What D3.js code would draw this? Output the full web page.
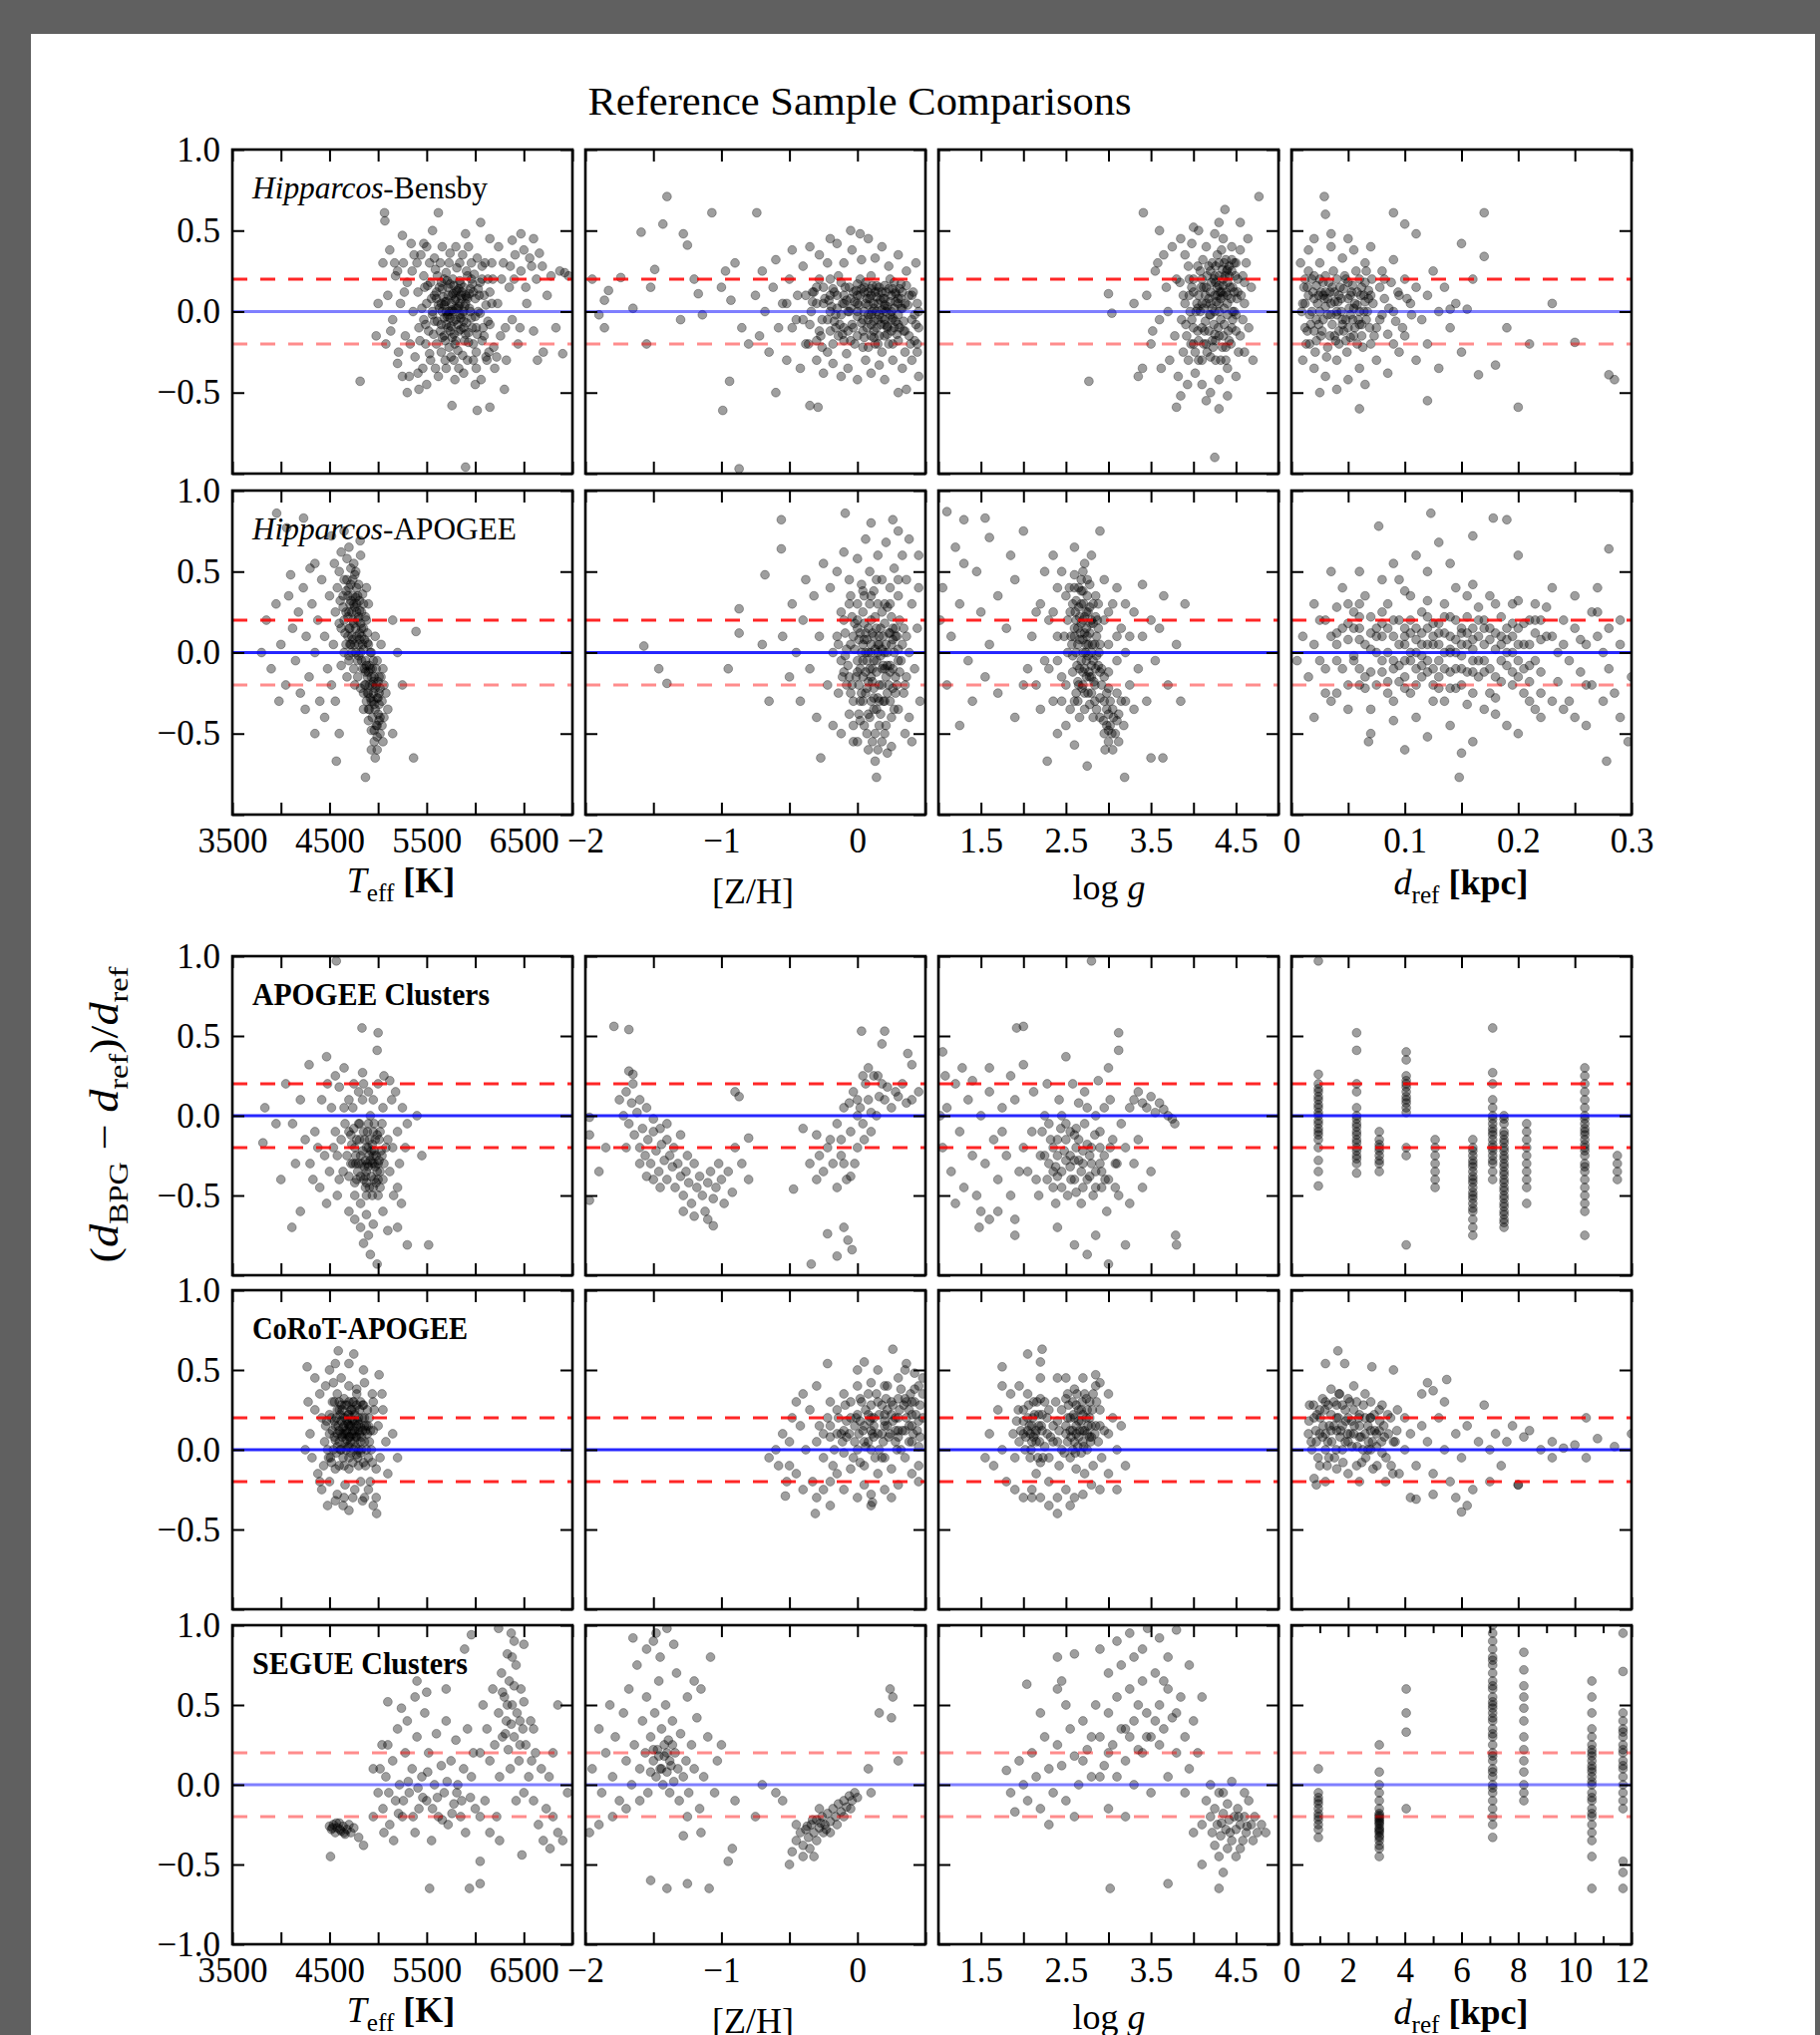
<!DOCTYPE html>
<html><head><meta charset="utf-8">
<script src="https://cdn.jsdelivr.net/npm/d3@7"></script>
<style>
html,body{margin:0;padding:0;background:#606060;}
svg{display:block;}
text{font-family:"Liberation Serif","DejaVu Serif",serif;fill:#000;}
</style></head><body>
<svg id="c" width="1825" height="2041"></svg>
<script>
// ---------------- DATA ----------------
const title = "Reference Sample Comparisons";
const teffTicks = [3500,4000,4500,5000,5500,6000,6500,7000];
const teffLabels = [3500,4500,5500,6500];
const zTicks = [-2,-1.5,-1,-0.5,0,0.5];
const zLabels = [-2,-1,0];
const gTicks = [1,1.5,2,2.5,3,3.5,4,4.5,5];
const gLabels = [1.5,2.5,3.5,4.5];
const dTicksNear = [0,0.05,0.1,0.15,0.2,0.25,0.3];
const dLabelsNear = [0,0.1,0.2,0.3];
const dTicksFar = [0,2,4,6,8,10,12];
const dMinorFar = [1,3,5,7,9,11];
const dLabelsFar = [0,2,4,6,8,10,12];
const yTicks = [-1,-0.5,0,0.5,1];
const refLines = [0.2,-0.2];

// Row 1: Hipparcos-Bensby  (x, y) pairs
const hbTeff = [5500,.05,5520,-.12,5540,.18,5560,-.02,5580,.1,5600,-.2,5610,.22,5630,.02,5650,-.08,5660,.14,5680,-.15,5690,.06,5700,.24,5710,-.03,5720,.1,5730,-.22,5740,.17,5750,-.09,5760,.01,5770,.2,5780,-.14,5790,.07,5800,-.05,5810,.13,5820,-.24,5830,.03,5840,.19,5850,-.11,5860,.08,5870,-.02,5880,.15,5890,-.18,5900,.05,5910,-.07,5920,.22,5930,-.13,5940,.11,5960,-.04,5970,.17,5980,-.2,6000,.08,6010,-.1,6030,.14,6050,-.01,6070,.2,6090,-.15,6110,.04,6130,-.06,6150,.12,5470,-.05,5480,.15,5490,-.2,5660,0,5720,-.1,5750,.05,5780,0,5820,.02,5850,.1,5740,-.04,5800,.12,5700,-.08,5880,-.06,5650,.18,5950,0,5600,.08,5680,.04,5840,-.02,5910,.09,
5050,.3,5080,-.2,5100,.1,5120,.38,5150,-.05,5180,.22,5200,-.32,5230,.05,5260,.3,5280,-.15,5300,.18,5320,-.4,5340,.42,5360,0,5380,-.28,5400,.3,5420,-.1,5440,.35,5460,-.35,5500,.4,5540,-.3,5580,.33,5620,-.4,5660,.4,5700,-.35,5740,.36,5790,-.42,5840,.3,5880,-.38,5930,.4,5980,-.3,6020,.33,6060,-.42,6100,.3,6140,-.25,6180,.2,6200,-.35,6230,.05,6260,-.15,6290,.3,6320,-.3,6350,.15,6380,-.05,6410,.35,6440,-.2,6470,.25,6500,.38,6530,.05,6560,.33,6600,-.12,6630,.2,6660,.36,6700,-.25,6740,.1,6780,.22,6830,-.1,6870,.25,6920,.24,6960,.22,6900,-.26,
5066,.61,5070,.56,5620,.61,6055,.55,5760,-.58,6020,-.61,6150,-.59,4815,-.43,5420,-.48,5900,-.96,5250,.47,5560,.5,5900,.48,6470,.48,6380,.44,6600,.45,5300,-.5,6300,-.48,5000,.05,4980,-.15];
const hbTeffCore = [5410,.12,5430,-.18,5450,.02,5470,.22,5490,-.08,5510,.16,5530,-.26,5550,.08,5570,-.14,5590,.26,5610,-.06,5630,.15,5650,-.25,5670,.09,5690,-.18,5710,.19,5730,0,5750,-.28,5770,.11,5790,-.2,5810,.27,5830,-.12,5850,.17,5870,-.27,5890,.03,5910,.25,5930,-.19,5950,.14,5970,-.1,5990,.23,6010,-.25,6030,0,6050,.18,6070,-.18,6090,.1,6110,-.28,6130,.2,6150,-.08,6170,.05,6190,-.22,5560,0,5600,.12,5640,-.12,5680,.2,5720,-.02,5760,.1,5800,-.18,5840,.05,5880,-.1,5920,.08,5960,.2,6000,-.03,6040,.1,6080,-.1,5580,-.06,5620,.04,5660,-.16,5700,.06,5740,-.12,5780,.16,5820,-.08,5860,.12,5900,-.14,5940,.02,5980,.12,6020,-.14,5750,0,5800,.02,5850,-.04,5700,0,5780,-.06,5830,.14,5720,.15,5880,0,5650,.05,5800,.08,5760,-.16,5900,.1,5680,-.04,
5130,-.12,5170,.3,5210,-.25,5270,.12,5330,-.2,5370,.35,5410,-.38,5470,.42,5530,.3,5590,-.35,5640,.3,5690,-.3,5730,.3,5780,-.3,5830,-.35,5870,.35,5920,-.3,5960,.3,6010,-.35,6070,.28,6120,-.3,6170,.3,6220,-.28,6270,.2,6310,-.1,6360,.28,6400,.2,6460,-.1,6520,.15,6580,.28,6640,-.3,6690,.28,5200,.25,5350,.25,5250,-.4,6240,.4,6150,.45,5800,.4,5500,-.45,6000,-.45];
const hbZ = [-.3,.05,-.28,-.12,-.25,.15,-.22,-.05,-.2,.1,-.18,-.2,-.15,.02,-.12,.18,-.1,-.1,-.08,.07,-.05,-.18,-.03,.12,0,-.03,.02,.2,.04,-.12,.06,.05,.08,-.22,.1,.14,.12,-.06,.14,.09,.16,-.15,.18,.01,.2,.16,.22,-.09,.24,.06,.26,-.2,.28,.11,.3,-.02,.32,.17,.34,-.12,-.26,-.22,-.2,.2,-.14,-.15,-.06,0,0,.1,.05,0,.1,-.02,.15,.05,.2,-.05,.25,0,.3,.08,-.1,.05,-.16,-.02,.08,.12,.12,-.16,.18,.12,.22,.03,.27,-.1,-.02,-.2,0,.17,.04,-.05,.1,.1,.14,-.1,.2,-.15,.32,.02,.35,-.25,.38,.1,.4,-.05,.42,-.18,.44,.05,.45,-.1,-.35,-.08,-.38,.1,
-.75,.1,-.72,-.15,-.7,.25,-.68,0,-.65,-.25,-.62,.15,-.6,.32,-.58,-.1,-.55,.05,-.52,-.3,-.5,.2,-.48,.38,-.45,-.05,-.42,-.35,-.4,.28,-.38,-.2,-.35,.4,-.33,.12,-.3,-.3,-.28,.35,-.25,-.38,-.22,.3,-.18,-.32,-.15,.42,-.12,-.4,-.1,.3,-.07,-.35,-.04,.38,0,-.42,.03,.32,.06,-.3,.08,.45,.1,-.38,.13,.33,.16,-.33,.18,.4,.2,-.42,.23,.28,.26,-.3,.3,.35,.33,-.35,.36,.25,.4,-.3,.43,.3,.45,-.4,-.05,.5,.02,.48,-.2,.45,
-1.4,.71,-1.43,.54,-1.59,.49,-1.28,.48,-1.25,.41,-1.07,.61,-.74,.61,-1.83,.13,-1.86,.07,-1.74,.21,-1.65,.02,-1.49,.26,-1.52,.15,-1.86,-.1,-1.9,-.02,-1.14,-.02,-1.17,.11,-.93,.07,-.97,.25,-1,.15,-1.3,-.05,-1.55,-.2,-1.2,.2,-.85,-.1,-.9,.3,-.8,-.2,-.99,-.61,-.29,-.59,-.35,-.58,-.87,-.97,-.94,-.43,.36,-.48,.44,-.2,.3,-.5,-.6,-.5,-1.95,.2];
const hbZCore = [-.34,0,-.32,.12,-.3,-.18,-.28,.2,-.26,-.05,-.24,.08,-.22,-.25,-.2,0,-.18,.14,-.16,-.1,-.14,.22,-.12,-.02,-.1,.1,-.08,-.26,-.06,.15,-.04,-.08,-.02,.06,0,-.15,.02,.1,.04,-.22,.06,.18,.08,-.02,.1,.22,.12,-.12,.14,0,.16,.15,.18,-.25,.2,.04,.22,-.14,.24,.2,.26,-.04,.28,.12,.3,-.18,.32,.08,.34,-.06,.36,.16,.38,-.15,.4,.1,.42,-.02,.44,-.25,0,.05,.05,.12,.1,-.08,.15,-.05,.2,.08,.25,-.12,.3,.05,-.05,.02,-.1,-.18,-.15,.1,-.2,-.12,-.25,.05,-.3,.15,.08,.04,.12,.02,.16,-.02,.2,-.08,.24,-.02,.28,-.06,.03,-.07,.07,.08,.11,.16,.13,-.2,.17,.07,.21,.12,.23,-.2,.27,.18,.31,-.1,.33,.02,.35,-.12,.37,.04,.39,-.2,.41,.12,.43,-.08,.45,0,-.01,.13,-.07,-.12,-.11,.05,-.17,-.06,-.21,.07,-.27,-.15,-.33,.06,-.36,-.2,-.4,-.05,-.44,.1,-.48,-.1,-.52,.05,
-.19,.03,-.13,-.08,-.09,.15,-.03,-.1,.01,.04,.05,-.16,.09,.08,.13,.12,.17,-.08,.21,0,.25,.1,.29,-.14,.33,.12,-.17,.12,-.11,-.14,-.05,.08,.03,.14,.07,-.1,.11,0,.15,-.2,.19,.08,.23,.14,.27,.02,.31,.14,.35,.05,.1,-.15,0,0,.2,.02,.25,-.05,.15,.12,.05,.15,-.07,0,.12,.05,.22,-.1,.28,.06,.18,-.04,.08,-.05,.3,-.08,.26,.14,.14,.16];
const hbLogg = [3.9,.05,3.92,-.15,3.95,.2,3.98,-.05,4,.12,4.02,-.25,4.05,.02,4.08,.25,4.1,-.1,4.12,.15,4.15,-.2,4.18,.08,4.2,-.02,4.22,.3,4.25,-.14,4.28,.1,4.3,.22,4.32,-.05,4.35,.16,4.38,-.22,4.4,.05,4.42,.28,4.45,-.1,4.48,.12,4.5,-.02,4.52,.2,4.55,-.15,4.25,0,4.3,.05,4.35,.1,4.4,.18,4.2,.12,4.15,.05,4.1,.2,4.05,-.12,4.45,.25,4.38,.32,4.28,.35,4.2,-.28,4.1,-.3,4.32,-.3,4,-.1,4.48,0,4.42,-.18,4.26,.18,4.34,.26,4.36,-.08,4.14,-.06,4.06,.1,3.96,0,4.24,-.08,4.44,.08,4.3,-.15,4.18,.28,4.5,.3,4.46,.15,4.22,-.18,4.12,.02,4.33,.12,4.27,.06,4.4,-.02,4.37,.22,
3.45,.1,3.5,-.2,3.55,.25,3.6,-.05,3.62,-.35,3.65,.35,3.7,0,3.72,-.3,3.75,.4,3.78,-.15,3.8,.2,3.82,-.4,3.85,.45,3.88,-.25,3.9,.35,3.93,-.45,3.98,.42,4.02,-.38,4.06,.5,4.1,-.45,4.15,.4,4.2,-.5,4.25,.48,4.3,-.42,4.35,.45,4.4,-.35,4.45,.4,4.5,-.4,4.55,.38,4.6,-.25,4.62,.3,4.65,-.1,4.68,.15,4.7,-.3,4.6,.05,4.58,.22,4.64,.45,3.68,.15,3.58,.3,3.52,-.12,4,.52,4.3,.55,4.15,-.55,4.4,-.52,3.85,-.52,
3.41,.61,4.37,.63,4.77,.71,2.77,-.43,3,.11,3.04,-.01,3.8,-.59,4.3,-.6,3.4,-.35,3.35,-.4,4.25,-.9,3.6,.5,3.3,.05,4.55,.55];
const hbLoggCore = [3.88,.1,3.91,-.08,3.94,.28,3.97,-.2,4,.2,4.03,0,4.06,-.18,4.09,.15,4.11,.32,4.13,-.12,4.16,.22,4.19,-.02,4.21,.18,4.23,-.22,4.26,.28,4.29,-.1,4.31,.12,4.33,.38,4.36,.02,4.39,.25,4.41,-.12,4.43,.15,4.46,-.05,4.49,.22,4.51,.08,4.53,-.25,4.56,.1,4.2,.05,4.25,.22,4.3,.3,4.35,.2,4.4,.1,4.45,.32,4.3,0,4.25,.1,4.35,-.15,4.2,.25,4.15,.15,4.1,.05,4.05,.28,4,-.2,3.95,.1,4.28,.15,4.32,.08,4.38,.12,4.42,.22,4.22,.02,4.18,-.12,4.12,-.2,4.08,0,4.34,-.22,4.44,-.2,4.48,.3,4.52,.12,4.26,-.18,4.36,.3,4.4,.26,4.3,.16,4.24,.2,4.14,.1,4.04,.05,3.98,.15,4.46,0,4.5,-.12,4.16,-.25,4.26,-.3,4.38,-.3,4.06,-.3,3.94,-.3,3.86,-.05,3.84,.18,4.58,-.05,4.6,.18];
const hbDref = [.01,.05,.012,-.1,.014,.15,.016,-.2,.018,0,.02,.22,.022,-.05,.024,.1,.026,-.15,.028,.18,.03,.03,.032,-.22,.034,.12,.036,-.08,.038,.06,.04,.2,.042,-.12,.044,0,.046,.14,.048,-.18,.05,.08,.052,-.02,.054,.16,.056,-.1,.058,.04,.06,.2,.062,-.15,.064,.1,.066,-.05,.068,.13,.07,-.2,.015,.1,.025,0,.035,.05,.045,-.05,.055,.02,.065,.06,.02,-.12,.03,.12,.04,-.02,.05,-.1,.06,0,.028,-.05,.038,-.15,.048,.2,.058,.12,.012,.2,.022,.16,.032,.08,.042,.1,.052,-.16,.062,-.08,.072,.05,.075,-.1,.078,.15,.08,-.02,.082,.08,.085,-.14,.088,.18,.09,0,.092,-.06,.095,.1,
.008,.3,.01,-.3,.015,.38,.02,-.35,.025,.3,.03,-.4,.035,.4,.04,-.3,.045,.33,.05,-.42,.055,.38,.06,-.35,.065,.3,.07,.4,.075,-.3,.08,.25,.085,-.38,.09,.32,.095,-.25,.1,.2,.1,-.15,.105,.05,.11,-.3,.11,.15,.115,-.05,.12,.1,.12,-.2,.125,.25,.13,0,.13,-.35,.135,.15,.14,-.1,.145,.05,.15,-.25,.02,.45,.035,.48,.05,.45,.065,-.45,.04,-.48,.025,-.5,
.029,.71,.09,.61,.17,.61,.1,.54,.11,.48,.15,.42,.17,.34,.21,-.2,.25,-.19,.28,-.39,.285,-.42,.2,-.59,.18,-.33,.165,-.39,.14,.015,.155,.015,.06,-.6,.03,.6,.12,-.55,.16,.2,.19,-.1,.23,.05];
const hbDrefCore = [.009,0,.011,.15,.013,-.2,.015,.25,.017,-.08,.019,.12,.021,-.25,.023,.05,.025,.2,.027,-.12,.029,.08,.031,-.28,.033,.18,.035,-.02,.037,.25,.039,-.18,.041,.06,.043,.15,.045,-.08,.047,.22,.049,-.25,.051,.02,.053,.12,.055,-.15,.057,.25,.059,-.05,.061,.1,.063,-.22,.065,.18,.067,0,.069,-.1,.071,.2,.073,-.15,.012,.05,.016,-.02,.02,.08,.024,-.08,.028,.1,.032,-.02,.036,.15,.04,0,.044,.08,.048,-.05,.052,.1,.056,.05,.06,-.08,.064,0,.068,.08,.018,.2,.026,.12,.034,-.15,.042,-.2,.05,.18,.058,-.2,.066,.25,.014,-.12,.022,-.18,.03,.22,.038,.12,.046,-.12,.054,-.05,.062,.15,.07,.1,.078,-.05,.082,.2,.086,.02,.09,-.2,.094,.12,.098,-.1,.102,.08,.106,-.02];

// Row 2: Hipparcos-APOGEE
const haTeff = [4550,.55,4600,.5,4620,.62,4650,.45,4680,.58,4700,.4,4720,.52,4740,.35,4760,.48,4780,.3,4800,.42,4820,.6,4840,.36,4580,.4,4610,.32,4640,.28,4670,.38,4690,.22,4710,.3,4730,.25,4750,.18,4770,.34,4790,.2,4810,.26,4830,.15,4850,.3,4870,.22,4890,.12,4560,.25,4600,.18,4660,.12,4700,.15,4740,.08,4780,.1,4800,.05,4815,.69,4700,.65,4880,.4,4900,.3,
4650,0,4700,-.05,4720,.05,4750,-.1,4770,0,4790,-.15,4810,.08,4830,-.05,4850,.02,4870,-.12,4890,.06,4910,-.08,4930,0,4950,-.18,4970,.1,4990,-.05,5010,-.15,4860,-.2,4900,-.25,4940,-.1,4820,-.22,4760,-.2,4680,-.15,4620,-.08,5030,.05,5050,-.1,
4880,-.3,4900,-.35,4920,-.28,4940,-.4,4960,-.32,4980,-.45,5000,-.38,5020,-.5,5040,-.3,4960,-.55,4990,-.6,5010,-.42,4930,-.48,4900,-.42,4850,-.35,5060,-.4,5080,-.25,5100,-.35,5050,-.55,4970,-.65,4930,-.6,5000,-.28,4950,-.25,4980,-.2,5020,-.22,
3850,.2,3900,-.1,3950,.3,4000,.05,4050,-.2,4080,.35,4120,.15,4150,-.05,4180,.25,4200,-.25,4230,.4,4260,.1,4290,-.15,4320,.3,4350,0,4380,.2,4400,-.3,4420,.45,4450,.1,4480,-.1,4500,.35,4520,-.2,4540,.05,4100,.48,4300,.52,3980,-.3,4250,-.35,4450,-.4,4350,.55,4560,-.3,
3956,.86,4233,.83,4060,.77,4870,-.77,4570,-.67,5365,-.65,5390,.13,4520,.72,4650,.75,4350,-.5,5200,0,5250,-.2,5150,.2,3800,0,4600,-.5,5150,-.5];
const haTeffCore = [4650,.2,4670,.05,4690,.35,4700,-.02,4710,.15,4720,.42,4730,0,4740,.2,4750,.3,4760,.05,4770,.15,4780,.4,4790,-.05,4800,.22,4810,.32,4820,0,4830,.1,4840,-.1,4850,.15,4860,.08,4870,-.05,4880,.2,4890,-.15,4900,.05,4910,-.2,4920,-.1,4930,-.3,4940,-.2,4950,-.05,4960,-.15,4970,-.35,4980,-.1,4990,-.28,5000,-.18,5010,-.32,5020,-.4,5030,-.15,4880,-.08,4900,-.12,4920,0,4860,-.1,4840,.05,4820,.18,4800,-.02,4780,.25,4760,.28,4740,.45,4720,.32,4700,.25,4680,.45,4950,-.3,4970,-.22,4990,-.45,5010,-.25,4930,-.15,4910,-.35,4890,-.25,4870,-.2,4850,-.25,4830,.25,4810,.12,4790,.35,4770,.5,4750,.55,4730,.1,4710,.05,4690,.1,4670,.25,4640,.35,4620,.15,4960,-.48,4990,-.52,5040,-.45,5060,-.2];
const haZ = [-.15,.1,-.12,-.05,-.1,.2,-.08,-.2,-.05,.05,-.03,-.3,0,.15,.02,-.1,.04,.25,.06,-.25,.08,0,.1,-.15,.12,.1,.14,-.35,.16,.05,.18,-.2,.2,.18,.22,-.08,.24,-.3,.26,.08,.28,-.15,.3,.02,-.1,-.12,-.06,-.38,-.02,.02,.02,-.42,.06,.12,.1,-.3,.14,-.05,.18,.02,.22,.28,.26,-.22,-.04,-.2,0,-.05,.04,-.15,.08,-.38,.12,-.22,.16,-.45,.2,-.1,.24,.12,0,.3,.04,.05,.1,.05,-.14,-.25,-.18,0,.28,.15,.32,-.05,.34,-.25,.36,.1,.38,-.4,.3,-.35,-.12,.25,.07,-.5,.11,-.55,.15,-.6,
-.55,.1,-.5,-.15,-.48,.3,-.45,0,-.42,-.3,-.4,.2,-.38,.45,-.35,-.1,-.32,.35,-.3,-.4,-.28,.1,-.25,.55,-.22,-.2,-.2,.4,-.18,-.45,-.15,.5,-.12,-.5,-.1,.62,-.06,.45,-.03,-.55,0,.58,.03,.42,.06,.7,.09,.5,.12,.38,.15,.6,.18,.45,.21,.68,.24,.4,.27,.52,.3,.35,.33,.6,.36,.45,.38,.7,.4,.3,.42,-.1,.44,.15,.46,-.3,.45,.4,.4,-.55,.35,-.5,.25,-.58,.2,-.5,.22,-.62,-.05,.35,.05,.35,.15,.3,
-1.57,.04,-1.46,-.1,-1.4,-.19,-.95,-.1,-.68,.48,-.87,.27,-.87,.12,-.27,-.65,.14,-.77,-.56,.82,-.56,.64,-.09,.86,.26,.82,.13,-.67,-.65,-.3,-.7,.05,.3,.75,.1,.8,.45,.6];
const haZCore = [-.14,.05,-.11,-.15,-.09,.12,-.07,-.08,-.04,.22,-.01,-.15,.01,.08,.03,-.25,.05,.18,.07,-.05,.09,.3,.11,-.18,.13,.02,.15,-.28,.17,.15,.19,-.08,.21,.05,.23,-.2,.25,.22,.27,-.35,.29,.1,.31,-.12,.33,.05,.35,-.2,0,-.12,.02,.12,.04,-.3,.06,0,.08,-.18,.1,.2,.12,-.05,.14,.15,.16,-.2,.18,-.1,.2,-.3,.22,0,.24,-.12,.26,.15,.28,-.25,.3,-.05,-.08,.02,-.05,-.25,-.02,.18,.03,0,.07,.08,.11,-.1,.15,0,.19,.1,.23,.12,.27,0,.31,.2,.05,-.45,.09,-.4,.13,-.5,.17,-.38,.21,-.45,.25,-.4,.01,-.38,-.03,-.45,0,-.55,.08,-.6,.18,-.55,.12,-.35,.16,-.3,.2,.3,.1,.35,.04,.38,-.06,.3,.14,.45,.24,.3,.3,.45,.34,.15,.36,-.15,.38,0,
-.09,-.02,-.03,.1,.01,-.2,.05,.08,.09,-.1,.13,.22,.17,-.02,.21,-.15,.25,.05,.29,-.2,-.06,-.15,0,.2,.04,-.05,.08,.15,.12,-.28,.16,.1,.2,0,.24,-.08,.28,.1,.02,-.3,.06,-.12,.1,0,.14,-.12,.18,.25,.22,-.25,.26,-.1,.11,.12,.07,-.22,.19,-.3,.15,.05];
const haLogg = [2.6,.4,2.62,.2,2.64,.05,2.66,-.1,2.68,.3,2.7,-.2,2.72,.12,2.74,-.05,2.76,.25,2.78,-.15,2.8,0,2.82,.18,2.84,-.3,2.86,.1,2.88,-.08,2.58,-.02,2.6,.15,2.65,.28,2.7,.08,2.75,.35,2.8,-.25,2.85,.22,2.9,-.12,2.62,-.25,2.68,.45,2.72,-.35,2.78,.42,2.84,.05,2.64,.15,2.74,.15,2.7,0,2.66,.22,2.76,-.02,2.82,-.05,2.58,.3,2.88,.3,2.72,.55,2.8,.6,2.66,-.4,2.9,.05,
2.92,-.2,2.95,-.3,2.98,-.25,3,-.38,3.02,-.45,3.05,-.35,3.08,-.5,3.1,-.42,3.12,-.55,3.15,-.3,3,-.55,2.95,-.5,3.05,-.6,3.1,-.25,3.18,-.45,
2.1,.1,2.15,-.2,2.2,.3,2.25,-.05,2.3,.2,2.35,-.3,2.4,.1,2.45,-.15,2.5,.35,2.52,0,2.55,-.35,2.4,.4,2.3,-.1,2.2,-.35,2.15,.25,2.95,.2,3,.05,3.05,.3,3.1,-.05,3.15,.15,3.2,0,3.25,-.2,3.3,.25,3.35,-.1,3.4,.1,3.45,-.3,3.5,.2,3,-.12,3.1,.4,3.2,.3,3.3,-.35,2.95,.45,2.45,.5,2.35,.6,2.5,-.45,2.4,-.5,3.55,-.05,3.6,.15,3.7,-.2,3.8,.05,3.65,.35,3.4,.42,2.05,-.1,2.25,.5,2.6,.65,
1.1,.87,1.3,.82,1.55,.83,1.6,.71,1.2,.65,1.45,.5,1.05,.4,1.25,.3,1.5,.25,1.7,.35,1.9,.45,1.15,.1,1.35,-.05,1.6,.05,1.8,.15,2,-.2,1.1,-.2,1.4,-.3,1.7,-.25,1.9,-.4,1.25,-.45,1.55,-.15,1.85,.6,1.02,.2,1.3,.55,
3.19,-.77,3.5,-.65,3.64,-.65,2.28,-.67,2.6,-.57,2.75,-.7,3.85,-.3,3.9,.3,2,.75,2.9,.75];
const haLoggCore = [2.56,.1,2.58,-.12,2.6,-.3,2.62,.32,2.64,-.18,2.66,.08,2.68,-.05,2.7,.38,2.72,-.1,2.74,.25,2.76,.05,2.78,.12,2.8,-.15,2.82,.3,2.84,-.2,2.86,-.02,2.88,.15,2.9,-.28,2.6,.48,2.65,.4,2.7,.5,2.75,.45,2.8,.2,2.85,-.1,2.7,-.12,2.68,.18,2.72,.22,2.76,-.25,2.64,-.3,2.74,.05,2.78,-.32,2.82,-.4,2.86,-.35,2.9,-.4,2.94,-.42,2.98,-.35,3.02,-.3,2.96,-.6,3,-.48,3.06,-.4,3.12,-.38,2.52,.2,2.5,-.2,2.48,.1,2.54,.4,2.4,-.05,2.35,.25,3,.25,3.1,.1,2.45,-.3,3.2,-.3,3.25,.1,
2.57,.05,2.61,.25,2.63,-.08,2.67,.12,2.69,-.22,2.71,.3,2.73,0,2.77,-.12,2.79,.18,2.81,.05,2.83,-.18,2.87,.2,2.89,0,2.6,.1,2.7,.2,2.8,-.08,2.75,.1,2.65,-.2,2.85,.35,2.55,.25,2.92,-.1,2.95,-.15,3,-.22,2.98,-.45,3.04,-.5,2.68,.38,2.74,-.15,2.78,.28,2.62,0,2.72,-.25];
const haDref = [.01,.1,.015,-.15,.02,.3,.025,-.05,.03,.2,.035,-.3,.04,.05,.045,.4,.05,-.2,.055,.15,.06,-.1,.065,.35,.07,-.35,.075,0,.08,.25,.085,-.25,.09,.1,.095,.45,.1,-.15,.105,.2,.11,-.4,.115,.05,.12,.32,.125,-.1,.13,.18,.135,-.3,.14,.02,.145,.4,.15,-.2,.155,.12,.16,-.05,.165,.28,.17,-.35,.175,.08,.18,-.15,.185,.22,.19,-.45,.195,0,.2,.15,.205,-.25,.21,.05,.215,.3,.22,-.12,.225,.1,.23,-.3,.24,.2,.245,-.05,.25,-.4,.255,.08,.26,-.2,.27,.1,.28,-.1,.29,.05,.3,-.15,
.03,-.1,.04,.28,.05,.08,.06,.3,.07,.12,.08,-.12,.09,-.05,.1,.05,.11,.15,.12,-.05,.13,-.15,.14,.22,.15,.05,.16,.15,.17,-.12,.18,.02,.19,-.08,.2,-.05,.21,-.18,.22,.2,.06,.5,.08,.45,.1,.38,.12,.5,.14,.55,.16,.42,.11,.6,.13,.68,.09,.55,.07,-.5,.09,-.42,.12,-.52,.14,-.45,.16,-.55,.18,-.38,.2,-.5,.22,-.4,.24,-.35,.26,-.45,.15,-.62,.1,-.6,.05,-.35,.035,.5,.125,.1,.105,-.25,.085,0,.135,0,.155,-.32,.115,-.02,.095,-.18,.145,-.1,.175,.35,.195,.3,.215,-.35,.235,0,.265,.25,.275,-.3,.23,.4,.25,.35,.04,-.25,.02,-.4,.06,-.2,
.123,.86,.178,.83,.19,.82,.16,.72,.077,.78,.28,.64,.148,-.77,.278,-.67,.297,-.55,.068,-.55,.27,.4,.29,-.4,.005,-.05,.2,.6];
const haDrefCore = [.02,.05,.025,.2,.03,-.25,.035,.1,.04,-.05,.045,.15,.05,.3,.055,-.05,.06,.15,.065,-.15,.07,.22,.075,-.2,.08,.1,.085,.3,.09,-.3,.095,.2,.1,-.05,.105,.35,.11,-.1,.115,.25,.12,.15,.125,-.3,.13,.05,.135,.3,.14,-.22,.145,.2,.15,-.1,.155,.35,.16,-.25,.165,.1,.17,.05,.175,-.25,.18,.3,.185,-.05,.19,.15,.195,-.2,.2,.32,.205,.05,.21,-.3,.215,.12,.22,-.25,.225,.28,.23,.1,.235,-.18,.24,.05,.245,-.3,.25,.15,.255,-.12,.26,.05,.265,-.2,.27,.25,.275,0,.28,.15,.285,-.25,.29,.2,.1,.1,.11,-.2,.12,.22,.13,-.22,.14,.1,.15,.15,.16,.02,.17,.2,.18,-.28,.19,.08,.2,-.15,.21,.2,.105,0,.115,-.15,.125,.05,.135,-.1,.145,0,.155,.05,.165,-.15,.175,.15,.185,.1,.195,.1,.205,-.1,.215,-.05,.085,.15,.075,.1,.065,.05,.055,.25,
.04,.12,.045,-.1,.05,.18,.055,-.02,.06,.08,.065,-.22,.07,.02,.075,.15,.08,-.05,.085,-.18,.09,.2,.095,.05,.1,-.22,.105,.12,.11,0,.115,-.08,.12,.05,.125,.18,.13,-.05,.135,.12,.14,-.12,.145,.08,.15,-.02,.155,.22,.16,.08,.165,-.05,.17,.15,.175,-.1,.18,.12,.185,-.18,.19,0,.195,.18,.2,.05,.205,.18,.21,-.08,.215,.2,.22,.08,.1,.15,.11,.08,.12,-.12,.13,.12,.14,0,.15,.12,.16,-.12,.17,-.05,.09,-.1,.08,.18,.07,-.12,.06,.22,.125,-.2,.135,.22,.145,-.22,.155,-.12,.165,.2,.115,.12,.105,-.05,.095,-.08,.185,.05,.195,-.12];

// Row 3: APOGEE Clusters
const acTeff = [4700,-.1,4720,-.3,4740,.05,4760,-.2,4780,-.4,4800,-.05,4820,-.25,4840,.1,4860,-.15,4880,-.35,4900,-.2,4910,-.45,4920,0,4940,-.3,4950,-.1,4960,-.4,4980,-.25,5000,-.5,5010,-.15,5020,-.35,5040,-.05,5060,-.3,5080,-.2,4870,-.28,4890,-.1,4930,-.22,4970,-.32,4990,-.12,4850,-.4,4810,-.15,4770,-.3,4730,-.18,4700,-.38,4680,-.25,4660,-.05,4640,-.35,4620,-.15,4600,-.4,4580,-.25,4560,-.1,4950,.1,4900,.15,4850,.2,4800,.15,4750,.2,4700,.1,4650,.05,4960,-.05,5050,.05,5100,-.15,5120,-.35,5140,.1,5000,.2,5020,-.45,4940,-.5,4880,-.5,4820,-.55,4760,-.5,
4300,-.3,4350,-.1,4400,-.45,4420,.1,4450,-.25,4480,.2,4500,-.35,4520,.05,4540,-.2,4560,.25,4580,-.5,4380,-.2,4330,-.4,4250,-.15,4200,.1,4150,-.3,4120,-.05,4470,-.55,5150,-.2,5180,.15,5200,-.1,5220,-.3,5250,.05,5280,-.2,5300,-.05,5160,-.5,5200,-.45,5240,-.55,4700,-.6,4760,-.65,4820,-.7,4880,-.62,4900,-.75,4950,-.68,5050,-.6,4600,.18,4650,.3,4840,.27,5060,.25,5120,.22,
4570,.97,4834,.55,5000,.52,4990,.41,4470,.37,4290,.32,4990,-.93,4920,-.87,4850,-.8,4113,-.7,5520,-.81,5300,-.81,3815,-.17,3835,.05,3950,-.05,4050,.2,5400,0,5450,-.25,4000,-.4,4200,-.6,5100,-.72,5200,-.7];
const acTeffCore = [4750,-.08,4770,-.25,4790,-.35,4810,-.05,4830,-.3,4850,-.1,4870,-.45,4890,-.3,4910,-.15,4930,-.38,4950,-.25,4970,-.15,4990,-.35,5010,-.28,5030,-.22,5050,-.4,4880,-.2,4900,-.32,4920,-.28,4940,-.18,4960,-.22,4980,-.42,5000,-.3,5020,-.1,4860,-.32,4840,-.22,4820,-.38,4800,-.3,4780,-.15,4760,-.42,4740,-.3,4720,-.12,4900,-.05,4950,-.45,5000,-.4,5040,-.25,4870,-.38,4910,-.25,4960,-.3,4880,-.42];
const acZ = [-1.75,.1,-1.72,0,-1.7,.15,-1.68,-.05,-1.66,.08,-1.64,-.12,-1.62,.02,-1.6,-.2,-1.58,-.08,-1.56,-.25,-1.54,-.15,-1.52,-.3,-1.5,-.1,-1.48,-.22,-1.46,-.35,-1.44,-.18,-1.42,-.28,-1.4,-.4,-1.38,-.25,-1.36,-.32,-1.34,-.45,-1.32,-.3,-1.3,-.38,-1.28,-.5,-1.26,-.35,-1.24,-.42,-1.22,-.55,-1.2,-.3,-1.18,-.45,-1.16,-.38,-1.14,-.5,-1.12,-.6,-1.1,-.42,-1.08,-.35,-1.06,-.52,-1.04,-.45,-1.02,-.3,-1,-.4,-.98,-.55,-.95,-.35,-.92,-.48,-1.65,.2,-1.6,.1,-1.55,.05,-1.5,-.02,-1.45,-.08,-1.4,-.15,-1.35,-.2,-1.3,-.12,-1.25,-.25,-1.5,-.4,-1.45,-.45,-1.55,-.38,-1.6,-.3,-1.7,-.2,-1.4,-.05,-1.2,-.63,-1.06,-.69,-1.1,-.65,-1.28,-.6,-.85,-.3,-.9,-.2,-.8,-.4,
-.2,-.15,-.18,-.3,-.15,-.05,-.12,-.25,-.1,.05,-.08,-.4,-.05,-.1,-.03,.15,0,-.2,.02,.05,.04,-.05,.06,.2,.08,.1,.1,-.1,.12,.25,.14,0,.16,.12,.18,.2,.2,.1,.22,.18,.25,.05,.28,.15,.3,.12,.33,.2,.36,.08,.4,.1,.45,.15,-.25,-.35,-.22,-.2,-.28,-.25,-.3,-.4,-.15,-.45,-.1,-.3,-.05,-.38,0,0,.04,.25,.08,.3,-.02,-.3,0,.1,.05,-.15,.1,.02,.15,.25,-.12,-.15,-.06,.08,.03,.53,.2,.53,.18,.45,.37,.39,.4,.32,-.3,-.12,-.35,-.3,
-1.79,.56,-1.68,.54,-1.68,.28,-1.65,.26,-1.97,-.01,-1.97,-.12,-1.97,-.53,-.22,-.74,-.07,-.78,-.04,-.84,-.34,-.93,-.15,-.88,-.47,-.46,-.4,-.08,-.87,.12,-.9,.15,-.8,-.14,-1.85,-.2,-1.9,-.35,-.1,-.7];
const acLogg = [2,-.2,2.05,-.35,2.1,-.1,2.15,-.4,2.2,-.25,2.25,0,2.3,-.3,2.35,-.45,2.4,-.15,2.45,-.35,2.5,-.05,2.55,-.25,2.6,-.4,2.65,-.15,2.7,-.3,2.75,.05,2.8,-.2,2.85,-.35,2.9,-.1,2.95,-.25,3,-.4,3.05,-.15,3.1,-.3,3.15,-.05,3.2,-.2,2.12,.15,2.28,.2,2.42,.1,2.58,.2,2.72,.15,2.88,.22,3.02,.1,2.18,-.5,2.38,-.55,2.52,-.5,2.68,-.55,2.82,-.5,2.98,-.6,2.22,-.1,2.48,-.22,2.62,-.08,2.78,-.38,2.92,-.45,3.12,-.5,2.35,-.2,2.55,-.1,2.7,-.45,2.85,0,2.95,.05,3.08,-.45,2.45,0,2.6,-.28,2.65,.08,2.75,-.18,2.4,-.38,2.3,-.05,
1.05,-.2,1.1,.05,1.15,-.35,1.2,.2,1.25,-.1,1.3,-.45,1.35,.1,1.4,-.25,1.45,-.5,1.5,0,1.55,-.3,1.6,.15,1.65,-.15,1.7,-.4,1.75,.05,1.8,-.25,1.85,-.5,1.9,.1,1.95,-.35,1.08,.25,1.28,.3,1.5,-.6,1.7,-.6,1.9,-.65,1.2,-.55,1.6,.3,1.85,.25,1.4,.22,1.02,0,1.75,-.1,
3.25,.05,3.3,.1,3.35,.15,3.4,.08,3.45,.05,3.5,.12,3.55,.02,3.6,.08,3.65,.04,3.7,0,3.75,-.02,3.78,-.05,3.3,-.3,3.35,-.15,3.4,-.45,3.5,-.35,3.25,-.55,
1.92,.55,2,.56,3.12,.52,3.12,.41,2.5,.37,2,.32,3,-.93,2.6,-.81,2.75,-.87,3.79,-.75,3.8,-.81,2.85,-.75,3.2,-.81,1.48,-.7,1.6,-.65,1.9,-.75,2.4,-.7,3,.3,1.05,.4,2.8,.97];
const acLoggCore = [2.25,-.25,2.32,-.15,2.38,-.32,2.44,-.08,2.5,-.28,2.56,-.4,2.62,-.2,2.68,-.35,2.72,-.05,2.78,-.25,2.84,-.12,2.9,-.3,2.96,-.4,3.02,-.2,3.08,-.3,2.4,-.25,2.5,-.15,2.6,-.12,2.7,-.22,2.8,-.3,2.9,-.2,2.55,-.32,2.65,-.28,2.75,-.4,2.85,-.45,2.45,-.45,2.35,-.35,2.28,-.4,2.62,-.48,2.92,-.35];
const acDrefDist = [0.95,2.3,3.1,4.05,5.07,6.4,7.1,7.5,8.3,10.35,11.5];
const acDrefVals = [
 [.97,.26,.2,.15,.1,.05,0,-.05,-.1,-.15,-.2,-.28,-.35,-.44,.12,.02,-.08,.17,.07,-.03,-.12],
 [.52,.41,.2,.15,.05,0,-.05,-.1,-.15,-.2,-.25,-.3,-.36,-.22,-.12,-.02,-.07,-.17,-.27],
 [-.1,-.15,-.2,-.25,-.3,-.35,-.22,-.18,-.28],
 [.4,.35,.25,.2,.15,.1,.05,.02,.18,.08,-.2,-.25,-.81,.12,.22],
 [-.15,-.2,-.25,-.3,-.35,-.4,-.45],
 [-.15,-.2,-.25,-.3,-.35,-.4,-.45,-.5,-.55,-.6,-.65,-.7,-.75,-.28,-.38,-.48,-.22,-.32,-.42,-.52,-.58],
 [.55,.27,.2,.1,.05,0,-.05,-.1,-.15,-.2,-.25,-.3,-.35,-.4,-.08,-.18,-.02,-.12,-.22,-.28],
 [0,-.05,-.1,-.15,-.2,-.25,-.3,-.35,-.4,-.45,-.5,-.55,-.6,-.65,-.7,-.12,-.22,-.32,-.42,-.52,-.62,-.02,-.17,-.27,-.37,-.47,-.57,-.67],
 [-.05,-.1,-.15,-.2,-.25,-.3,-.35,-.4,-.45,-.55],
 [.3,.25,.2,.1,.05,0,-.05,-.1,-.15,-.2,-.25,-.3,-.35,-.4,-.45,-.5,-.55,-.6,-.75,-.08,-.18,-.02,-.12,-.22,-.32,.15],
 [-.25,-.3,-.35,-.4]
];

// Row 4: CoRoT-APOGEE
const crTeff = [4500,.1,4520,.2,4540,0,4560,.15,4580,.25,4600,.05,4620,.18,4640,-.05,4660,.1,4680,.28,4700,.02,4720,.15,4740,-.08,4760,.22,4780,.08,4800,.12,4820,-.02,4840,.2,4860,.05,4880,.15,4900,-.05,4550,.3,4650,.32,4750,.3,4850,.28,4600,-.1,4700,-.12,4800,-.1,4450,.05,4470,.18,4490,-.05,4530,.12,4570,-.02,4610,.22,4630,.08,4670,0,4690,.16,4710,.08,4730,.25,4770,.02,4790,.18,4810,.25,4830,.08,4870,-.1,4890,.1,4910,.2,4930,0,4950,.12,4420,.2,4440,-.1,4580,.1,4660,.2,4720,.05,4760,.12,4680,.1,4620,0,4740,.18,4560,.06,4640,.14,4700,.22,4780,-.03,4820,.14,4600,.25,4520,-.08,4960,.25,4980,-.12,
4300,.1,4320,-.05,4350,.25,4380,-.15,4400,.35,4420,-.25,4460,.4,4500,-.2,4540,.42,4580,-.28,4620,.45,4660,-.22,4700,.4,4740,-.3,4780,.38,4820,-.2,4860,.42,4900,-.25,4940,.35,4980,-.3,5000,.15,5020,-.05,5050,.25,5080,.05,5100,-.15,5150,.1,5200,-.05,4950,.3,5040,.35,4400,-.2,4480,-.35,4560,-.32,4640,-.35,4700,-.38,4760,-.25,4840,-.32,4920,-.2,4250,0,4280,.3,4350,.45,
4590,.62,4560,.54,4700,.54,4270,.52,5010,.47,4985,-.4,4860,-.3,4650,-.3,4750,.6,4850,.5,4950,-.35,4500,.5];
const crTeffCore = [4460,.15,4480,0,4500,.22,4510,-.05,4530,.3,4550,.08,4560,-.12,4570,.2,4590,.15,4600,.3,4610,0,4630,.25,4640,.1,4650,-.1,4660,.28,4670,.12,4680,.02,4690,.22,4700,.3,4710,.15,4720,-.02,4730,.1,4740,.3,4750,0,4760,.18,4770,.08,4780,.28,4790,-.05,4800,.2,4810,.1,4820,.3,4830,0,4840,.12,4850,-.08,4860,.2,4870,.12,4880,0,4890,.25,4900,.15,4910,.05,4920,.12,4940,-.08,4600,.12,4620,.1,4640,.2,4660,.05,4680,.18,4700,.08,4720,.25,4740,.12,4760,.05,4780,.15,4800,0,4820,.05,4840,.28,4860,.15,4700,.15,4650,.15,4750,.1,4550,.18,4580,.02,4720,.2,4680,.06,4760,.25,4800,.16,4620,.28,4700,-.05,4580,.35,4780,.35];
const crZ = [-.3,.05,-.28,.15,-.25,-.05,-.22,.2,-.2,.08,-.18,-.1,-.15,.25,-.12,.1,-.1,-.02,-.08,.18,-.05,.3,-.02,.05,0,.22,.02,-.08,.05,.15,.08,.35,.1,0,.12,.2,.15,.1,.18,.28,.2,-.05,.22,.15,.25,.3,.28,.05,.3,.2,.32,.38,.35,.12,.38,.25,.4,.05,.42,.3,.45,.18,.48,.35,-.2,.3,-.1,.35,0,.4,.1,.42,.2,.4,.3,.45,-.15,-.15,-.05,-.12,.05,-.1,.15,-.15,.25,-.12,.35,-.05,.05,.05,.12,.08,.2,.18,.28,.12,.18,.1,.08,.22,-.02,.15,.15,.3,.25,.22,.35,.32,.4,.15,.45,.4,.1,.12,.22,.25,.3,.08,-.08,.08,.02,.32,.38,.05,.45,.02,
-.6,0,-.58,-.1,-.55,.1,-.52,-.2,-.5,.05,-.48,.2,-.45,-.15,-.42,.15,-.4,-.25,-.38,0,-.35,.25,-.33,-.2,-.3,-.3,-.25,-.25,-.2,-.2,-.1,-.25,0,-.3,.1,-.28,.2,-.25,.3,-.22,.4,-.15,.45,-.1,-.4,.35,-.3,.4,0,.5,.15,.5,.35,.5,.48,.45,-.45,.3,.1,-.35,-.2,-.35,.05,-.22,-.5,-.1,-.65,-.05,.25,-.3,
.26,.63,.36,.54,-.22,.54,.42,.48,-.31,-.4,-.53,-.29,.11,-.33,.05,.55,.45,-.2];
const crZCore = [-.2,.15,-.17,0,-.14,.2,-.11,.05,-.09,.28,-.06,.1,-.03,-.05,-.01,.2,.01,.1,.03,.3,.06,.02,.09,.18,.11,.1,.13,-.05,.16,.22,.19,.05,.21,.32,.23,.08,.26,.18,.29,0,.31,.25,.33,.12,.36,.2,.39,.35,.41,.1,.43,.22,.46,.08,.48,.2,0,0,.04,.12,.08,.05,.12,.15,.16,0,.2,.22,.24,.1,.28,.2,.32,0,.36,.3,.4,.22,.44,.12,.06,.25,.14,.35,.22,.4,.3,.32,.38,.15,.1,.28,.18,-.05,.26,.28,.34,.28,.42,.38,-.05,.2,-.15,.1,.02,.18,.1,.2,.2,.15,.3,.12,.4,.3,.46,.28,-.25,.1,-.1,.12];
const crLogg = [2,.1,2.02,0,2.05,.2,2.08,-.05,2.1,.15,2.12,.3,2.15,.05,2.18,.22,2.2,-.08,2.22,.12,2,.25,1.95,.05,1.92,.18,2.25,.02,2.5,.1,2.52,.2,2.55,-.05,2.58,.3,2.6,.05,2.62,.15,2.65,.25,2.68,-.02,2.7,.12,2.72,.35,2.75,0,2.78,.2,2.8,.08,2.82,-.1,2.85,.15,2.6,.38,2.55,.12,2.65,.08,2.7,.22,2.48,-.02,2.45,.25,2.4,.05,2.35,.15,2.3,-.05,2.28,.2,2.38,.3,2.42,-.1,2.88,.05,2.9,.25,2.92,-.05,2.95,.12,2.05,.35,2.15,-.15,2.25,.3,2.62,-.12,2.72,-.15,2.78,.3,2.12,.08,2.58,0,2.68,.18,2.18,.15,2.08,.1,2.52,.05,2.62,.28,2.75,.1,2.32,.08,2.4,.18,2.22,.22,2.5,.32,1.9,-.05,3,.1,
1.6,.1,1.65,-.1,1.7,.25,1.75,0,1.8,-.2,1.85,.35,1.88,.1,1.9,-.25,1.95,.4,2,-.3,2.1,-.25,2.2,-.3,2.3,-.2,2.4,-.3,2.5,-.25,2.6,-.3,2.7,-.28,2.8,-.22,2.9,-.25,3,-.15,3.05,.2,3.1,0,3.15,.15,3.2,-.1,3,.35,2.9,.42,2.2,.45,2.4,.45,2.7,.45,1.75,.4,2.55,-.35,2.3,-.35,1.55,-.05,3.1,-.25,2.85,.4,
2.22,.63,2.2,.55,1.75,.52,2.85,.47,2.5,.45,2.4,-.4,2.1,-.3,2.05,.6];
const crLoggCore = [2,.18,2.03,.08,2.06,.28,2.09,0,2.11,.2,2.14,.1,2.16,.3,2.19,.05,2.21,.15,2.23,-.05,1.97,.12,1.94,.25,2.07,.15,2.13,.22,2.17,-.05,2.2,.32,2.1,.05,2.05,.12,2.15,.12,2.5,.15,2.53,.28,2.56,.08,2.59,.22,2.61,-.02,2.63,.35,2.66,.12,2.69,.3,2.71,.02,2.74,.2,2.76,.15,2.79,.05,2.81,.25,2.84,.1,2.86,.3,2.6,.2,2.65,.18,2.7,.05,2.75,.25,2.8,.15,2.55,.2,2.62,.1,2.72,.12,2.68,.25,2.58,.12,2.78,.08,2.64,.02,2.74,.32,2.52,.35,2.82,.35,2.9,.15,2.35,.05,2.3,.25,2.42,.12,2.45,0,2.28,.1];
const crDref = [.6,.1,.72,0,.8,.2,.88,.05,1,-.1,1.12,.15,1.2,.3,1.28,.05,1.4,.22,1.52,-.05,1.6,.12,1.68,.35,1.8,0,1.92,.18,2,-.15,2.08,.1,2.2,.25,2.32,.02,2.4,.15,2.48,-.08,2.6,.2,2.72,.05,2.8,.3,2.88,-.12,3,.1,3.12,.18,3.2,-.02,3.28,.08,3.4,.22,3.52,-.1,3.6,.05,1,.25,1.4,.38,1.8,.28,2.2,.4,2.6,.35,2,.05,1.6,-.12,1.2,-.2,2.4,-.2,2.8,0,.8,-.18,1.2,.1,1.6,.2,2,.32,2.4,.08,2.8,.12,3.2,.28,.64,.28,.88,-.22,1.32,-.05,1.72,.08,2.12,.18,2.52,0,2.92,.22,3.32,-.2,3.72,.12,4,0,4,.2,3.8,-.15,4.2,.1,4.4,-.1,4.6,.15,
4.8,.05,5,-.15,5.2,.2,5.4,0,5.6,-.2,5.8,.1,6,-.05,6.2,.15,6.4,-.25,6.6,.05,6.8,.28,7,0,7.2,.1,7.4,-.1,7.6,.05,8,-.22,8.2,.08,8.4,.12,8.8,0,9.2,.05,9.6,.01,10,.03,10.8,.07,12,.1,11.4,.02,10.4,-.05,7.8,.15,5.4,.3,4.6,.35,4.2,-.3,5,-.28,5.8,-.3,7,-.2,6.2,-.35,4.8,.42,
1.64,.62,1.88,.54,1.2,.54,2.84,.52,3.6,.5,5.48,.44,5,.37,6,-.39,8,-.22,4.4,-.31,10.4,.2,9.2,-.05];
const crDrefCore = [.62,.18,.7,.05,.78,.28,.86,.12,.94,-.05,1.02,.2,1.1,.08,1.18,.25,1.26,-.1,1.34,.15,1.42,.05,1.5,.3,1.58,0,1.66,.2,1.74,.12,1.82,-.08,1.9,.25,1.98,.1,2.06,.3,2.14,.02,2.22,.15,2.3,-.1,2.38,.2,2.46,.08,2.54,.28,2.62,-.05,2.7,.15,2.78,.2,2.86,.05,2.94,.12,3.02,-.1,3.1,.25,3.18,.05,3.26,.15,3.34,-.05,3.42,.1,3.5,.2,3.58,-.15,3.66,.05,3.74,.25,1,.1,1.2,0,1.4,.12,1.6,.28,1.8,.15,2,.2,2.2,.1,2.4,.22,2.6,.1,2.8,.2,3,.02,1.1,.32,1.5,.15,1.9,.05,2.3,.3,2.7,0,3.1,.12,.9,.22,1.3,.28,1.7,.35];

// Row 5: SEGUE Clusters
const scTeff = [4500,-.26,4520,-.28,4540,-.25,4560,-.3,4580,-.27,4600,-.24,4620,-.29,4640,-.26,4660,-.31,4680,-.28,4700,-.25,4720,-.3,4750,-.27,4800,-.33,4850,-.38,4510,-.45,4530,-.27,4570,-.24,4610,-.28,4650,-.3,
4950,-.2,5000,-.05,5020,.1,5050,-.15,5080,.05,5100,.25,5120,-.25,5150,.15,5180,-.1,5200,.35,5220,0,5250,-.2,5280,.2,5300,.4,5320,-.05,5350,.1,5380,-.3,5400,.3,5420,-.15,5450,.05,5480,.45,5500,-.1,5520,.2,5550,-.35,5580,0,5600,.32,5620,-.2,5650,.12,5680,-.05,5700,.4,5720,-.25,5750,.15,5780,-.12,5800,.28,5820,0,5850,-.2,5880,.1,5900,-.3,5920,.35,5950,-.08,5980,.2,6000,-.15,5060,-.3,5160,-.35,5260,-.1,5360,-.2,5460,-.08,5560,-.15,5660,-.22,5760,-.18,5860,-.1,5960,.05,5110,-.05,5210,-.18,5310,.02,5410,-.02,5510,.08,5610,-.08,5710,.02,5810,-.05,5240,.48,5380,.55,5100,.52,4950,.1,5040,.25,
6050,.2,6080,.5,6100,-.1,6120,.35,6150,.15,6180,.6,6200,.25,6220,-.2,6240,.45,6250,.05,6270,.7,6280,.3,6300,.55,6320,.4,6330,.82,6340,.22,6350,.65,6360,.1,6380,.5,6400,.3,6420,.75,6430,.45,6450,.15,6470,.6,6490,.35,6500,.52,6520,.25,6550,.05,6570,.4,6600,-.1,6620,.2,6650,-.25,6680,.1,6700,-.35,6730,-.15,6760,.05,6800,-.2,6850,-.3,6900,-.35,6950,-.05,6150,-.3,6250,-.35,6050,-.2,6420,-.1,6500,-.05,6580,.15,6460,.4,6370,.38,6280,.58,6330,.5,6400,.62,6310,.32,6460,.25,
6240,.98,6370,.95,6400,.9,6500,.88,5960,.94,5890,.85,6380,.8,5530,-.65,5940,-.65,6050,-.62,6050,-.48,6480,-.44,6770,-.4,6600,.35,5700,.6,5500,.58,5400,.65,6800,.2,6850,.5];
const scZ = [-1.95,.1,-1.9,.35,-1.88,-.05,-1.85,.2,-1.82,.5,-1.8,.05,-1.78,.3,-1.75,-.1,-1.72,.45,-1.7,.15,-1.68,.6,-1.66,0,-1.64,.25,-1.62,.75,-1.6,.1,-1.58,.4,-1.56,.2,-1.55,.55,-1.54,-.05,-1.52,.3,-1.5,.15,-1.49,.45,-1.48,.05,-1.47,.22,-1.46,.65,-1.45,.1,-1.44,.35,-1.43,0,-1.42,.18,-1.41,.5,-1.4,.08,-1.39,.28,-1.38,-.05,-1.37,.12,-1.36,.4,-1.35,.02,-1.34,.2,-1.33,.7,-1.32,.1,-1.31,-.1,-1.3,.32,-1.28,.05,-1.26,.15,-1.25,.55,-1.24,-.05,-1.22,.25,-1.2,.1,-1.18,.42,-1.16,-.15,-1.15,.6,-1.13,.05,-1.1,.3,-1.08,.8,-1.05,-.05,-1.03,.15,-1.5,.9,-1.55,.85,-1.48,.95,-1.45,.8,-1.4,.98,-1.65,.92,-1.35,.88,-1.42,.25,-1.46,.18,-1.38,.15,-1.5,.22,-1.44,.1,-1.4,.2,-1.52,.08,-1.36,.25,-1.6,-.1,-1.7,-.15,-1.25,-.2,-1.8,-.2,-1.9,-.25,-1.97,-.3,-1.15,-.3,-1,.25,-1.2,.65,
-.45,-.35,-.42,-.3,-.4,-.38,-.38,-.28,-.36,-.33,-.34,-.25,-.32,-.3,-.3,-.22,-.28,-.27,-.26,-.2,-.24,-.25,-.22,-.18,-.2,-.23,-.18,-.15,-.16,-.2,-.14,-.12,-.12,-.17,-.1,-.1,-.08,-.14,-.06,-.07,-.04,-.1,-.02,-.05,0,-.08,-.3,-.35,-.25,-.3,-.2,-.3,-.35,-.4,-.4,-.45,-.48,-.42,-.5,-.5,-.28,-.15,-.15,-.25,-.45,-.25,-.1,-.2,-.32,-.45,-.05,-.15,-.33,-.22,-.27,-.24,-.23,-.28,-.37,-.26,
.16,.45,.26,.55,.25,.42,.24,.6,.08,.1,-1.4,-.65,-1.25,-.62,-1.09,-.65,-.95,-.48,-.92,-.4,-1.28,-.32,-.7,0,-.6,-.05,-.55,-.1,-.75,-.2,-.9,-.1,.3,.15,.1,-.05,-1.52,-.6];
const scLogg = [1.9,-.17,1.8,.09,2.04,.63,2.4,.6,2.4,.8,2.6,.82,1.85,-.05,1.95,.15,2,0,2.05,-.1,2.1,.2,2.15,.05,2.2,-.15,2.25,.3,2.3,.1,2.35,-.05,2.4,.25,2.45,.12,2.5,-.1,2.55,.35,2.6,.18,2.65,0,2.7,.4,2.75,.22,2.8,.05,2.85,.5,2.9,.3,2.95,.12,3,.45,3.05,.25,3.1,.55,3.15,.35,3.2,.15,3.25,.6,3.3,.4,3.35,.22,3.4,.65,3.45,.45,3.5,.3,3.55,.7,3.6,.5,3.65,.35,3.7,.6,3.75,.42,3.8,.2,3.85,.55,3.9,.3,3.95,.1,4,.4,4.05,.2,2.2,.45,2.5,.5,2.8,.3,3,.2,3.2,.35,3.4,.2,3.6,.25,3.8,.45,3.35,.5,3.55,.4,3.45,.3,3.25,.3,2.7,.15,2.9,.05,3.1,.05,3.3,0,3.5,-.05,3.7,.05,3.9,-.05,2.3,-.25,2.6,-.2,3,-.15,3.2,-.2,2.45,.65,3,.7,3.15,.75,3.3,.8,3.46,.98,3.8,.97,3.6,.92,3.4,.85,3.25,.95,3.7,.8,3.65,.65,3.95,.75,4.1,.55,3.1,.9,2.9,.85,
4.15,-.1,4.2,-.2,4.22,-.3,4.25,-.15,4.28,-.25,4.3,-.05,4.32,-.32,4.35,-.18,4.38,-.28,4.4,-.12,4.42,-.22,4.45,-.35,4.48,-.2,4.5,-.28,4.52,-.15,4.55,-.25,4.58,-.35,4.6,-.2,4.62,-.3,4.65,-.1,4.68,-.25,4.7,-.35,4.72,-.2,4.75,-.3,4.8,-.25,4.85,-.3,4.4,-.4,4.3,-.45,4.5,-.45,4.2,0,4.1,-.25,4.35,-.05,4.45,.02,4.6,-.05,4.25,-.38,4.55,-.4,4.33,-.24,4.43,-.3,4.53,-.2,4.63,-.26,
3.02,-.65,3.7,-.62,4.3,-.65,4.35,-.55,4.1,-.5,4,-.3];
const scDrefDist = [0.95,3.1,4.05,7.1,8.2,10.6,11.7];
const scDrefVals = [
 [.1,-.05,-.08,-.1,-.12,-.15,-.18,-.2,-.22,-.25,-.28,-.33],
 [.25,.08,0,-.05,-.1,-.15,-.18,-.2,-.22,-.25,-.28,-.3,-.32,-.35,-.38,-.4,-.45,-.24,-.27,-.21,-.19,-.23,-.29,-.33],
 [.6,.45,.33,-.15],
 [1,.95,.9,.85,.8,.75,.7,.65,.6,.55,.5,.45,.4,.35,.3,.25,.2,.15,.1,.05,0,-.05,-.1,-.15,-.2,-.25,-.33,.78,.62,.48,.32,.18,.08,-.02,.42,.52],
 [.83,.72,.62,.55,.48,.4,.3,.22,.15,.08,0,-.05,-.1],
 [.65,.55,.45,.35,.3,.25,.2,.15,.1,.05,0,-.05,-.1,-.15,-.2,-.25,-.3,-.35,-.45,-.65,.22,.12,.02,-.08,-.18,.18,.08],
 [.95,.71,.45,.4,.35,.3,.25,.2,.15,.1,.05,0,-.05,-.1,-.15,-.48,-.55,-.65,.33,.22,.12]
];

// ---------------- BUILD ----------------
const pairs = (...arrs) => { const o=[]; arrs.forEach(a=>{for(let i=0;i+1<a.length;i+=2) o.push([a[i],a[i+1]]);}); return o; };
const strips = (ds, ys) => ds.flatMap((d,i)=>ys[i].map(v=>[d,v]));
const panelData = [
  [pairs(hbTeff,hbTeffCore), pairs(hbZ,hbZCore), pairs(hbLogg,hbLoggCore), pairs(hbDref,hbDrefCore)],
  [pairs(haTeff,haTeffCore), pairs(haZ,haZCore), pairs(haLogg,haLoggCore), pairs(haDref,haDrefCore)],
  [pairs(acTeff,acTeffCore), pairs(acZ), pairs(acLogg,acLoggCore), strips(acDrefDist, acDrefVals)],
  [pairs(crTeff,crTeffCore), pairs(crZ,crZCore), pairs(crLogg,crLoggCore), pairs(crDref,crDrefCore)],
  [pairs(scTeff), pairs(scZ), pairs(scLogg), strips(scDrefDist, scDrefVals)]
];

const svg = d3.select("#c");
svg.append("rect").attr("x",0).attr("y",0).attr("width",1825).attr("height",2041).attr("fill","#606060");
svg.append("rect").attr("x",31).attr("y",34).attr("width",1789).attr("height",2007).attr("fill","#fff");

const colX=[233,587,941,1295], colW=341;
const rowY=[150,492,959,1294,1630], rowH=[325,325,320,320,320];
const labelRows=[1,4];
const lineAlpha=[[.85,.45,.5],[.85,.45,.85],[.85,.85,.85],[.85,.85,.85],[.45,.45,.5]];
const fmtY = d3.format(".1f");
const fmtX = v => (v<0?"\u2212":"") + String(Math.abs(v));

function xSpec(r,c){
  if(c===0) return {dom:[3500,7000], ticks:teffTicks, labels:teffLabels};
  if(c===1) return {dom:[-2,0.5], ticks:zTicks, labels:zLabels};
  if(c===2) return {dom:[1,5], ticks:gTicks, labels:gLabels};
  if(r<2) return {dom:[0,0.3], ticks:dTicksNear, labels:dLabelsNear};
  return {dom:[0,12], ticks:dTicksFar, labels:dLabelsFar, minor: r===4 ? dMinorFar : null};
}

const defs = svg.append("defs");
function styleAxis(g, fs){
  g.select(".domain").remove();
  g.selectAll(".tick line").attr("stroke","#000").attr("stroke-width",2);
  g.selectAll(".tick text").attr("font-size",fs).attr("font-family",'"Liberation Serif","DejaVu Serif",serif').attr("fill","#000");
}

for(let r=0;r<5;r++){
  for(let c=0;c<4;c++){
    const W=colW, H=rowH[r];
    const spec=xSpec(r,c);
    const x=d3.scaleLinear().domain(spec.dom).range([0,W]);
    const y=d3.scaleLinear().domain([-1,1]).range([H,0]);
    const g=svg.append("g").attr("transform",`translate(${colX[c]},${rowY[r]})`);
    const cid=`clip${r}${c}`;
    defs.append("clipPath").attr("id",cid).append("rect").attr("width",W).attr("height",H);
    const inner=g.append("g").attr("clip-path",`url(#${cid})`);
    inner.selectAll("circle").data(panelData[r][c]).join("circle")
      .attr("cx",d=>x(d[0])).attr("cy",d=>y(d[1])).attr("r",4.4)
      .attr("fill","#000").attr("fill-opacity",0.38)
      .attr("stroke","#000").attr("stroke-opacity",0.3).attr("stroke-width",1);
    const la=lineAlpha[r];
    refLines.forEach((v,i)=>{
      inner.append("line").attr("x1",0).attr("x2",W).attr("y1",y(v)).attr("y2",y(v))
        .attr("stroke","#ff0000").attr("stroke-opacity",la[i]).attr("stroke-width",3)
        .attr("stroke-dasharray","15,13");
    });
    inner.append("line").attr("x1",0).attr("x2",W).attr("y1",y(0)).attr("y2",y(0))
      .attr("stroke","#0000ff").attr("stroke-opacity",la[2]).attr("stroke-width",3);

    const showX = labelRows.includes(r);
    const bx=g.append("g").attr("transform",`translate(0,${H})`)
      .call(d3.axisBottom(x).tickValues(spec.ticks).tickSize(-12).tickPadding(13)
        .tickFormat(v=> showX && spec.labels.some(l=>Math.abs(l-v)<1e-9) ? fmtX(v) : ""));
    styleAxis(bx,35);
    const tx=g.append("g").call(d3.axisTop(x).tickValues(spec.ticks).tickSize(-12).tickFormat(""));
    styleAxis(tx,35);
    if(spec.minor){
      const mb=g.append("g").attr("transform",`translate(0,${H})`).call(d3.axisBottom(x).tickValues(spec.minor).tickSize(-8).tickFormat(""));
      styleAxis(mb,35);
      const mt=g.append("g").call(d3.axisTop(x).tickValues(spec.minor).tickSize(-8).tickFormat(""));
      styleAxis(mt,35);
    }
    const yl=g.append("g").call(d3.axisLeft(y).tickValues(yTicks).tickSize(-12).tickPadding(12)
      .tickFormat(v=> (c===0 && (r===4 || v>-1)) ? fmtY(v) : ""));
    styleAxis(yl,35);
    const yr=g.append("g").attr("transform",`translate(${W},0)`).call(d3.axisRight(y).tickValues(yTicks).tickSize(-12).tickFormat(""));
    styleAxis(yr,35);
    g.append("rect").attr("width",W).attr("height",H).attr("fill","none").attr("stroke","#000").attr("stroke-width",2.6);
  }
}

const labelSpecs=[
  {parts:[{t:"Hipparcos",i:true},{t:"-Bensby"}], w:236, b:false},
  {parts:[{t:"Hipparcos",i:true},{t:"-APOGEE"}], w:265, b:false},
  {parts:[{t:"APOGEE Clusters"}], w:238, b:true},
  {parts:[{t:"CoRoT-APOGEE"}], w:216, b:true},
  {parts:[{t:"SEGUE Clusters"}], w:216, b:true}
];
labelSpecs.forEach((s,r)=>{
  const t=svg.append("text").attr("x",253).attr("y",rowY[r]+49).attr("font-size",31)
    .attr("textLength",s.w).attr("lengthAdjust","spacingAndGlyphs");
  if(s.b) t.attr("font-weight","bold");
  s.parts.forEach(p=>{const ts=t.append("tspan").text(p.t); if(p.i) ts.attr("font-style","italic");});
});

svg.append("text").attr("x",862).attr("y",115).attr("text-anchor","middle").attr("font-size",41)
  .attr("textLength",545).attr("lengthAdjust","spacingAndGlyphs").text(title);

function rich(t, parts, fs){
  const sh=fs*0.24;
  let down=false;
  parts.forEach(p=>{
    const ts=t.append("tspan").text(p.t);
    if(p.i) ts.attr("font-style","italic");
    if(p.b) ts.attr("font-weight","bold");
    if(p.sub){ ts.attr("font-size",fs*0.7); if(!down){ts.attr("dy",sh); down=true;} }
    else if(down){ ts.attr("dy",-sh); down=false; }
  });
}
const xLab=[
  {cx:402, parts:[{t:"T",i:true},{t:"eff",sub:true},{t:" [K]",b:true}], dy:0},
  {cx:755, parts:[{t:"[Z/H]"}], dy:11},
  {cx:1112, parts:[{t:"log "},{t:"g",i:true}], dy:7},
  {cx:1465, parts:[{t:"d",i:true},{t:"ref",sub:true},{t:" [kpc]",b:true}], dy:2}
];
[817,1950].forEach(bot=>{
  xLab.forEach(L=>{
    const t=svg.append("text").attr("x",L.cx).attr("y",bot+78+L.dy).attr("text-anchor","middle").attr("font-size",36);
    rich(t,L.parts,36);
  });
});
const yt=svg.append("text").attr("transform","translate(118,1118) rotate(-90)").attr("text-anchor","middle")
  .attr("font-size",40).attr("textLength",297).attr("lengthAdjust","spacingAndGlyphs");
rich(yt,[{t:"("},{t:"d",i:true},{t:"BPG",sub:true},{t:" \u2212 "},{t:"d",i:true},{t:"ref",sub:true},{t:")/"},{t:"d",i:true},{t:"ref",sub:true}],40);
</script>
</body></html>
